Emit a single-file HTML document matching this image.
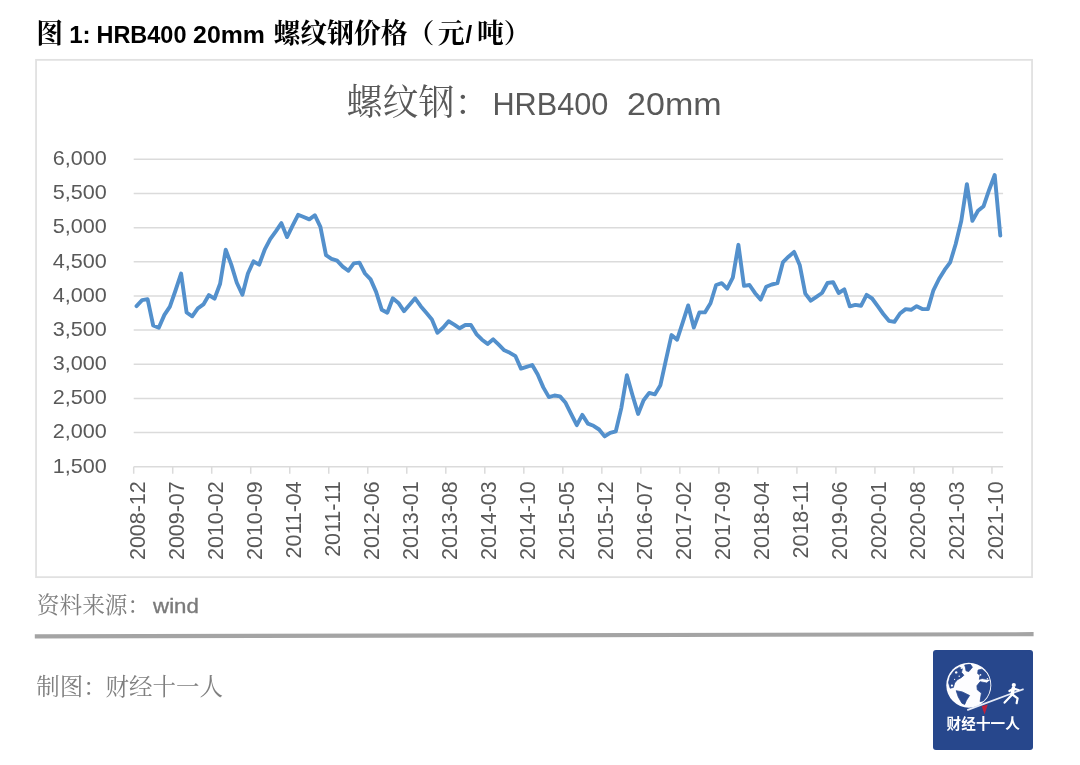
<!DOCTYPE html>
<html lang="zh"><head><meta charset="utf-8"><title>图 1: HRB400 20mm 螺纹钢价格（元/吨）</title>
<style>
html,body{margin:0;padding:0;background:#fff}
body{width:1080px;height:765px;position:relative;overflow:hidden;font-family:"Liberation Sans",sans-serif}
#logo{position:absolute;left:933px;top:650px;width:100px;height:100px;background:#27478c;border-radius:3px}
svg{position:absolute;left:0;top:0;will-change:transform}
text{font-family:"Liberation Sans",sans-serif}
.t{font-weight:bold;font-size:24.1px;fill:#000}
.ax{font-size:20.2px;fill:#595959}
.xl{font-size:22px;fill:#595959}
.ct{font-size:31.8px;fill:#595959}
.cap{font-size:19.5px;fill:#7a7a7a;stroke:#7a7a7a;stroke-width:0.35px}
.tc{font-family:"Liberation Serif","Noto Serif CJK SC",serif;font-weight:bold;font-size:26.8px;fill:#000}
.cc{font-family:"Liberation Serif","Noto Serif CJK SC",serif;font-size:36px;fill:#595959}
.sc{font-family:"Liberation Serif","Noto Serif CJK SC",serif;font-size:22.7px;fill:#7f7f7f}
.mc{font-family:"Liberation Serif","Noto Serif CJK SC",serif;font-size:23.5px;fill:#7f7f7f}
.lc{font-family:"Liberation Sans","Noto Sans CJK SC",sans-serif;font-weight:bold;font-size:14.6px;fill:#fff}
</style></head><body>
<div id="logo"></div>
<svg width="1080" height="765" viewBox="0 0 1080 765">
<rect x="36.05" y="59.85" width="996" height="517.3" fill="#fff" stroke="#e1e1e1" stroke-width="1.8"/>
<path d="M34.8,634.3 L1033.6,632.1 L1033.6,636.2 L34.8,638.5 Z" fill="#a4a4a4"/>
<g id="title" fill="#000"><title>图 1: HRB400 20mm 螺纹钢价格（元/吨）</title>
<text class="tc" x="36.2" y="43.4">图</text>
<text class="t" transform="translate(69.2,43.4)">1:</text>
<text class="t" transform="translate(96.5,43.4) scale(0.974,1)">HRB400</text>
<text class="t" transform="translate(193.1,43.4) scale(1.031,1)">20mm</text>
<text class="tc" x="273.5" y="43.4">螺纹钢价格（</text>
<text class="tc" x="437.8" y="43.4">元</text>
<text class="t" x="465.6" y="43.4" font-size="26">/</text>
<text class="tc" x="477" y="43.4">吨）</text>
</g>
<g id="chart">
<path d="M133.7,466.70H1003.1M133.7,432.55H1003.1M133.7,398.40H1003.1M133.7,364.25H1003.1M133.7,330.10H1003.1M133.7,295.95H1003.1M133.7,261.80H1003.1M133.7,227.65H1003.1M133.7,193.50H1003.1M133.7,159.35H1003.1M133.70,466.70V473.7M172.71,466.70V473.7M211.72,466.70V473.7M250.73,466.70V473.7M289.75,466.70V473.7M328.76,466.70V473.7M367.77,466.70V473.7M406.78,466.70V473.7M445.79,466.70V473.7M484.80,466.70V473.7M523.82,466.70V473.7M562.83,466.70V473.7M601.84,466.70V473.7M640.85,466.70V473.7M679.86,466.70V473.7M718.87,466.70V473.7M757.88,466.70V473.7M796.90,466.70V473.7M835.91,466.70V473.7M874.92,466.70V473.7M913.93,466.70V473.7M952.94,466.70V473.7M991.95,466.70V473.7" stroke="#dbdbdb" stroke-width="1.5" fill="none"/>
<text class="ax" text-anchor="end" transform="translate(106.7,472.50) scale(1.07,1)">1,500</text>
<text class="ax" text-anchor="end" transform="translate(106.7,438.35) scale(1.07,1)">2,000</text>
<text class="ax" text-anchor="end" transform="translate(106.7,404.20) scale(1.07,1)">2,500</text>
<text class="ax" text-anchor="end" transform="translate(106.7,370.05) scale(1.07,1)">3,000</text>
<text class="ax" text-anchor="end" transform="translate(106.7,335.90) scale(1.07,1)">3,500</text>
<text class="ax" text-anchor="end" transform="translate(106.7,301.75) scale(1.07,1)">4,000</text>
<text class="ax" text-anchor="end" transform="translate(106.7,267.60) scale(1.07,1)">4,500</text>
<text class="ax" text-anchor="end" transform="translate(106.7,233.45) scale(1.07,1)">5,000</text>
<text class="ax" text-anchor="end" transform="translate(106.7,199.30) scale(1.07,1)">5,500</text>
<text class="ax" text-anchor="end" transform="translate(106.7,165.15) scale(1.07,1)">6,000</text>
<text class="xl" text-anchor="end" transform="translate(144.69,481.3) rotate(-90) scale(0.976,1)">2008-12</text>
<text class="xl" text-anchor="end" transform="translate(183.70,481.3) rotate(-90) scale(0.976,1)">2009-07</text>
<text class="xl" text-anchor="end" transform="translate(222.71,481.3) rotate(-90) scale(0.976,1)">2010-02</text>
<text class="xl" text-anchor="end" transform="translate(261.72,481.3) rotate(-90) scale(0.976,1)">2010-09</text>
<text class="xl" text-anchor="end" transform="translate(300.73,481.3) rotate(-90) scale(0.976,1)">2011-04</text>
<text class="xl" text-anchor="end" transform="translate(339.74,481.3) rotate(-90) scale(0.976,1)">2011-11</text>
<text class="xl" text-anchor="end" transform="translate(378.76,481.3) rotate(-90) scale(0.976,1)">2012-06</text>
<text class="xl" text-anchor="end" transform="translate(417.77,481.3) rotate(-90) scale(0.976,1)">2013-01</text>
<text class="xl" text-anchor="end" transform="translate(456.78,481.3) rotate(-90) scale(0.976,1)">2013-08</text>
<text class="xl" text-anchor="end" transform="translate(495.79,481.3) rotate(-90) scale(0.976,1)">2014-03</text>
<text class="xl" text-anchor="end" transform="translate(534.80,481.3) rotate(-90) scale(0.976,1)">2014-10</text>
<text class="xl" text-anchor="end" transform="translate(573.81,481.3) rotate(-90) scale(0.976,1)">2015-05</text>
<text class="xl" text-anchor="end" transform="translate(612.83,481.3) rotate(-90) scale(0.976,1)">2015-12</text>
<text class="xl" text-anchor="end" transform="translate(651.84,481.3) rotate(-90) scale(0.976,1)">2016-07</text>
<text class="xl" text-anchor="end" transform="translate(690.85,481.3) rotate(-90) scale(0.976,1)">2017-02</text>
<text class="xl" text-anchor="end" transform="translate(729.86,481.3) rotate(-90) scale(0.976,1)">2017-09</text>
<text class="xl" text-anchor="end" transform="translate(768.87,481.3) rotate(-90) scale(0.976,1)">2018-04</text>
<text class="xl" text-anchor="end" transform="translate(807.88,481.3) rotate(-90) scale(0.976,1)">2018-11</text>
<text class="xl" text-anchor="end" transform="translate(846.89,481.3) rotate(-90) scale(0.976,1)">2019-06</text>
<text class="xl" text-anchor="end" transform="translate(885.91,481.3) rotate(-90) scale(0.976,1)">2020-01</text>
<text class="xl" text-anchor="end" transform="translate(924.92,481.3) rotate(-90) scale(0.976,1)">2020-08</text>
<text class="xl" text-anchor="end" transform="translate(963.93,481.3) rotate(-90) scale(0.976,1)">2021-03</text>
<text class="xl" text-anchor="end" transform="translate(1002.94,481.3) rotate(-90) scale(0.976,1)">2021-10</text>
<g fill="#595959"><title>螺纹钢：HRB400  20mm</title><text class="cc" x="346.5" y="115">螺纹钢：</text></g>
<text class="ct" transform="translate(492.4,115.4) scale(0.965,1)">HRB400</text>
<text class="ct" transform="translate(627.1,115.4) scale(1.071,1)">20mm</text>
<polyline points="136.5,306.1 142.1,300.2 147.6,299.2 153.2,325.5 158.8,327.7 164.4,314.9 169.9,306.6 175.5,290.5 181.1,273.5 186.6,312.5 192.2,316.3 197.8,308.4 203.4,304.4 208.9,295.1 214.5,298.7 220.1,283.7 225.7,249.7 231.2,264.4 236.8,282.7 242.4,294.7 247.9,273.5 253.5,261.3 259.1,264.7 264.7,249.7 270.2,239.1 275.8,231.3 281.4,223.1 287.0,237.1 292.5,225.8 298.1,214.8 303.7,217.0 309.3,219.4 314.8,215.2 320.4,226.8 326.0,255.2 331.5,258.9 337.1,260.7 342.7,266.6 348.3,270.8 353.8,263.4 359.4,262.6 365.0,273.5 370.6,279.4 376.1,291.9 381.7,309.7 387.3,312.7 392.8,298.3 398.4,302.9 404.0,311.2 409.6,304.8 415.1,298.3 420.7,306.2 426.3,312.7 431.9,319.4 437.4,332.7 443.0,327.7 448.6,321.3 454.2,324.6 459.7,328.3 465.3,325.0 470.9,325.0 476.4,334.1 482.0,339.7 487.6,343.9 493.2,339.3 498.7,344.6 504.3,350.3 509.9,352.8 515.5,356.2 521.0,368.6 526.6,366.8 532.2,365.0 537.7,374.5 543.3,387.4 548.9,397.1 554.5,395.5 560.0,396.4 565.6,402.8 571.2,414.2 576.8,425.2 582.3,414.9 587.9,423.6 593.5,425.8 599.1,429.5 604.6,436.4 610.2,432.8 615.8,431.3 621.3,408.1 626.9,375.2 632.5,395.3 638.1,413.9 643.6,400.2 649.2,392.9 654.8,394.4 660.4,385.2 665.9,360.2 671.5,335.1 677.1,339.7 682.6,322.8 688.2,305.4 693.8,327.6 699.4,312.4 704.9,312.4 710.5,303.3 716.1,285.0 721.7,283.2 727.2,288.6 732.8,277.7 738.4,244.8 744.0,285.9 749.5,285.0 755.1,293.2 760.7,299.6 766.2,286.8 771.8,284.5 777.4,283.2 783.0,262.1 788.5,256.7 794.1,251.9 799.7,264.9 805.3,293.6 810.8,300.7 816.4,296.8 822.0,293.0 827.5,283.0 833.1,282.1 838.7,293.0 844.3,289.4 849.8,306.3 855.4,304.9 861.0,305.8 866.6,294.9 872.1,298.5 877.7,306.2 883.3,314.0 888.9,320.8 894.4,321.9 900.0,313.5 905.6,309.1 911.1,309.8 916.7,306.2 922.3,309.1 927.9,309.1 933.4,290.3 939.0,279.0 944.6,269.9 950.2,262.3 955.7,244.0 961.3,220.8 966.9,184.1 972.4,220.9 978.0,210.8 983.6,206.2 989.2,189.7 994.7,175.0 1000.3,235.6" fill="none" stroke="#5390cc" stroke-width="3.9" stroke-linejoin="round" stroke-linecap="round"/>
</g>
<g fill="#7f7f7f"><title>资料来源：wind</title><text class="sc" x="36.8" y="613.1">资料来源：</text></g>
<text class="cap" transform="translate(153.1,613.1) scale(1.14,1)">wind</text>
<g fill="#7f7f7f"><title>制图：财经十一人</title><text class="mc" x="36.3" y="694.5">制图：</text><text class="mc" x="105.5" y="694.5">财经十一人</text></g>
<g id="logoart"><title>财经十一人</title>
<circle cx="968.8" cy="685.2" r="22.5" fill="#fdfdff"/>
<clipPath id="gc"><circle cx="968.8" cy="685.2" r="21.6"/></clipPath><path d="M948.5,682.6 L950.2,676.1 L954.2,670.4 L959.5,667.2 L962.3,668.8 L961.5,672.4 L963.9,675.3 L961.1,677.7 L957.4,679.7 L954.6,683.0 L953.4,687.4 L950.2,688.2ZM964.7,665.1 L970.4,664.3 L972.4,667.2 L968.8,671.6 L966.0,670.8 L965.6,668.0ZM956.2,690.7 L962.3,691.9 L969.6,695.5 L966.4,700.4 L964.7,704.4 L961.9,703.2 L958.3,697.1ZM976.9,685.8 L980.1,681.7 L986.6,683.0 L990.7,680.1 L991.9,687.4 L989.5,693.9 L984.6,700.8 L980.1,701.6 L981.4,693.1 L977.3,689.8ZM978.1,670.0 L981.8,669.2 L986.6,672.8 L990.7,679.3 L986.6,679.3 L982.2,678.5 L979.3,679.3 L980.1,675.3 L977.7,673.6Z" fill="#2b4a8f" clip-path="url(#gc)" stroke="#2b4a8f" stroke-width="0.8" stroke-linejoin="round"/><g fill="#fff" clip-path="url(#gc)"><circle cx="956.2" cy="672.4" r="1.2"/><circle cx="951.9" cy="685.6" r="1.1"/><circle cx="961.3" cy="668.4" r="0.6"/><circle cx="959.2" cy="676.2" r="0.7"/><circle cx="973.7" cy="670.0" r="0.7"/><circle cx="980.5" cy="674.9" r="0.8"/><circle cx="987.4" cy="678.7" r="0.7"/><circle cx="954.6" cy="679.3" r="0.6"/></g>
<line x1="967.2" y1="710.1" x2="1023.6" y2="689.1" stroke="#e6ebf7" stroke-width="1.7"/>
<path d="M981.7,706.3 L987.8,704.6 L984.6,714.6 Z" fill="#c2203a"/>
<circle cx="1013.8" cy="685" r="2.1" fill="#fff"/><path d="M1013.4,688 L1012.2,694" fill="none" stroke="#fff" stroke-width="3.6" stroke-linecap="round"/><path d="M1012,694.8 L1004.6,702.6 M1012.6,694.6 L1017.6,698.4 L1016.6,703.2 M1009.4,691 L1013.4,688.6 L1018.6,690" fill="none" stroke="#fff" stroke-width="2.2" stroke-linecap="round" stroke-linejoin="round"/>
<text class="lc" x="946.4" y="728.5" letter-spacing="0.15">财经十一人</text>
</g>
</svg></body></html>
